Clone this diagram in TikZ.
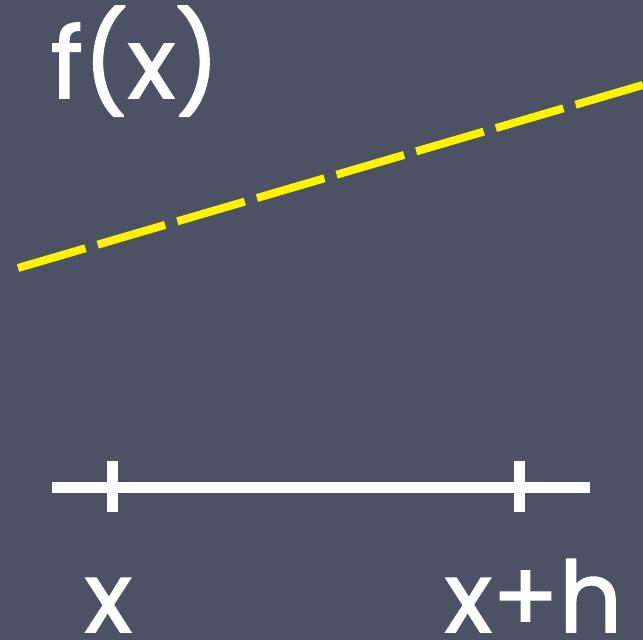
\documentclass[tikz,border=0pt]{standalone}
\usepackage{fontspec}
\setmainfont{Poppins}[BoldFont=Poppins,BoldFeatures={FakeBold=1.6}]
\definecolor{board}{RGB}{74,82,100}
\definecolor{chalkyellow}{RGB}{255,242,0}
\begin{document}
\begin{tikzpicture}[x=0.01cm,y=-0.01cm,
  lbl/.style={text=white,font=\bfseries\fontsize{28}{30}\selectfont,inner sep=0pt,anchor=base west},
  axisline/.style={draw=white,line width=11*0.2845pt},
  tick/.style={draw=white,line width=11*0.2845pt},
  secant/.style={draw=chalkyellow,line width=8*0.2845pt,dash pattern=on 20pt off 3.6pt}]
\fill[board] (0,0) rectangle (643,640);
\useasboundingbox (0,0) rectangle (643,640);
\node[lbl] (fx) at (50,98) {f(x)};
\coordinate (sA) at (18,268);
\coordinate (sB) at (643,85);
\draw[secant] (sA) -- (sB);
\coordinate (L) at (52,487.5);
\coordinate (R) at (590,487.5);
\draw[axisline] (L) -- (R);
\coordinate (t1a) at (112.5,461);
\coordinate (t1b) at (112.5,512);
\coordinate (t2a) at (519,461);
\coordinate (t2b) at (519,512);
\draw[tick] (t1a) -- (t1b);
\draw[tick] (t2a) -- (t2b);
\node[lbl] (x) at (84,632) {x};
\node[lbl] (xh) at (444,632) {x+h};
\end{tikzpicture}
\end{document}
